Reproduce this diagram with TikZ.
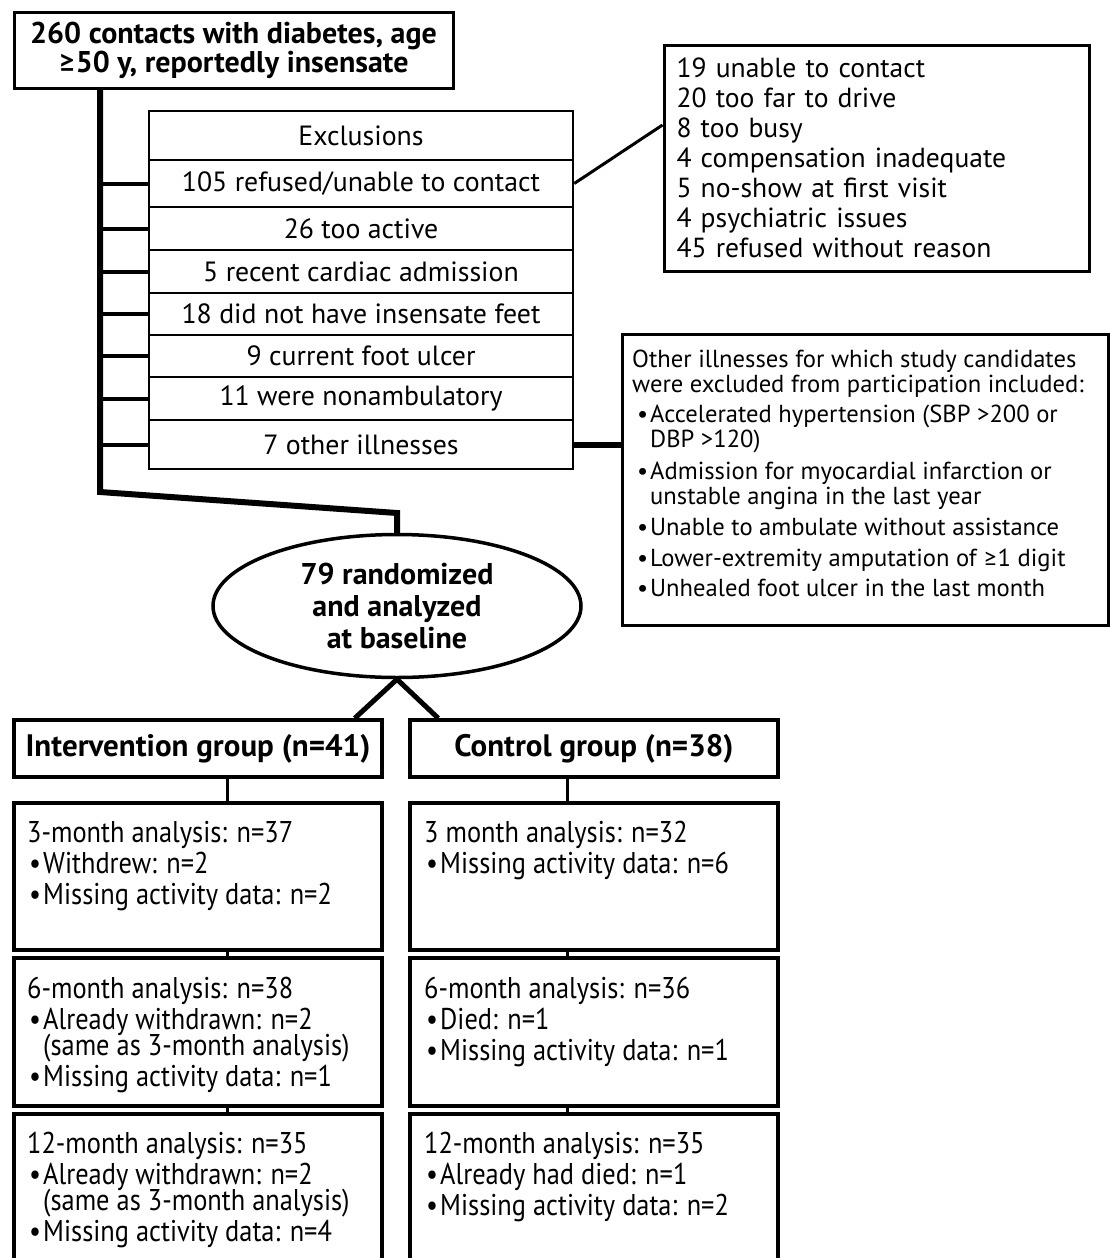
\documentclass[tikz,border=0pt]{standalone}
\usepackage{fontspec}
\setmainfont{PT Sans}
\newfontfamily\condfont[FakeStretch=0.88]{PT Sans}
\newfontfamily\gefont{Lato}
\usetikzlibrary{shapes.geometric,calc}
\newcommand{\mybul}{\makebox[18pt][l]{\hspace{5pt}•}}
\newcommand{\myind}{\hspace{18pt}}
\newcommand{\lbul}{\makebox[16pt][l]{\hspace{2pt}•}}
\newcommand{\lind}{\hspace{16pt}}
\newcommand{\myge}{{\gefont ≥}}
\begin{document}
\begin{tikzpicture}[x=1pt,y=-1pt,
  topbox/.style={draw, line width=3pt, minimum width=439pt, minimum height=76pt, inner sep=0pt, align=center, font=\fontsize{30}{29}\selectfont\bfseries},
  exrow/.style={draw, line width=2.5pt, minimum width=424pt, inner sep=0pt, font=\fontsize{27.8}{28}\selectfont},
  tickline/.style={line width=4pt},
  trunkline/.style={line width=6pt},
  thinlink/.style={line width=3pt},
  sidebox/.style={draw, line width=3pt, inner sep=0pt},
  grpbox/.style={draw, line width=3.5pt, minimum width=368pt, minimum height=57pt, inner sep=0pt, font=\fontsize{31}{28}\selectfont\bfseries},
  anbox/.style={draw, line width=4.5pt, minimum width=368pt, inner sep=0pt},
  antext/.style={anchor=north west, inner sep=0pt, align=left, font=\condfont\fontsize{30}{31}\selectfont},
  ellnode/.style={draw, ellipse, line width=3.5pt, minimum width=368pt, minimum height=143pt, inner sep=0pt, align=center, font=\fontsize{30}{32}\selectfont\bfseries}
]
\useasboundingbox (0,0) rectangle (1110,1258);
\fill[white] (0,0) rectangle (1110,1258);

% top box
\node[topbox] (top) at (233.5,50) {260 contacts with diabetes, age\\\myge 50 y, reportedly insensate};

% exclusions table
\node[exrow, minimum height=49pt] (ex0) at (361,135.5) {Exclusions};
\node[exrow, minimum height=47pt] (ex1) at (361,183.5) {105 refused/unable to contact};
\node[exrow, minimum height=43pt] (ex2) at (361,228.5) {26 too active};
\node[exrow, minimum height=43pt] (ex3) at (361,271.5) {5 recent cardiac admission};
\node[exrow, minimum height=42pt] (ex4) at (361,314) {18 did not have insensate feet};
\node[exrow, minimum height=42pt] (ex5) at (361,356) {9 current foot ulcer};
\node[exrow, minimum height=43pt] (ex6) at (361,398.5) {11 were nonambulatory};
\node[exrow, minimum height=49pt] (ex7) at (361,444.5) {7 other illnesses};

% trunk
\coordinate (trunk) at (100,0);
\coordinate (bendA) at (100,492);
\coordinate (bendB) at (397,513);
\node[ellnode] (ell) at (397,606) {79 randomized\\and analyzed\\at baseline};
\draw[trunkline] (top.south -| trunk) -- (bendA) -- (bendB) -- (ell.north);
\foreach \r in {ex1,ex2,ex3,ex4,ex5,ex6,ex7}{
  \draw[tickline] (\r.west) -- (\r.west -| trunk);
}

% side box 1
\node[sidebox, minimum width=425pt, minimum height=226pt, text width=400pt, align=left, font=\fontsize{27.6}{30}\selectfont] (rb1) at (876.5,158) {19 unable to contact\\20 too far to drive\\8 too busy\\4 compensation inadequate\\5 no-show at first visit\\4 psychiatric issues\\45 refused without reason};
\draw[thinlink] (ex1.east) -- ([yshift=33pt]rb1.west);

% side box 2
\node[sidebox, minimum width=486pt, minimum height=291pt] (rb2) at (865,479.5) {};
\node[anchor=north west, inner sep=0pt, align=left, font=\fontsize{24.6}{25}\selectfont] (rb2t) at (632,350) {Other illnesses for which study candidates\\
were excluded from participation included:\\[5pt]
\mybul Accelerated hypertension (SBP >200 or\\
\myind DBP >120)\\[7pt]
\mybul Admission for myocardial infarction or\\
\myind unstable angina in the last year\\[6pt]
\mybul Unable to ambulate without assistance\\[6pt]
\mybul Lower-extremity amputation of \myge 1 digit\\[5pt]
\mybul Unhealed foot ulcer in the last month};
\draw[trunkline] (ex7.east) -- (ex7.east -| rb2.west);

% groups
\node[grpbox] (int) at (198,748.5) {Intervention group (n=41)};
\node[grpbox] (ctl) at (594,748.5) {Control group (n=38)};
\draw[line width=5pt] ([xshift=-29pt]int.north east) -- (ell.south) -- ([xshift=30pt]ctl.north west);

% analysis boxes
\node[anbox, minimum height=147pt] (a1) at (198,876.5) {};
\node[anbox, minimum height=148pt] (a2) at (198,1032) {};
\node[anbox, minimum height=160pt] (a3) at (198,1194) {};
\node[anbox, minimum height=147pt] (b1) at (594,876.5) {};
\node[anbox, minimum height=148pt] (b2) at (594,1032) {};
\node[anbox, minimum height=160pt] (b3) at (594,1194) {};

\coordinate (lc) at (227,0);
\coordinate (rc) at (567,0);
\draw[thinlink] (int.south -| lc) -- (a1.north -| lc);
\draw[thinlink] (ctl.south -| rc) -- (b1.north -| rc);
\draw[thinlink] (a1.south -| lc) -- (a2.north -| lc);
\draw[thinlink] (a2.south -| lc) -- (a3.north -| lc);
\draw[thinlink] (b1.south -| rc) -- (b2.north -| rc);
\draw[thinlink] (b2.south -| rc) -- (b3.north -| rc);

\node[antext] (a1t) at (27,821) {3-month analysis: n=37\\\lbul Withdrew: n=2\\\lbul Missing activity data: n=2};
\node[antext] (a2t) at (27,977) {6-month analysis: n=38\\\lbul Already withdrawn: n=2\\[-5pt]\lind (same as 3-month analysis)\\\lbul Missing activity data: n=1};
\node[antext] (a3t) at (27,1132) {12-month analysis: n=35\\\lbul Already withdrawn: n=2\\[-5pt]\lind (same as 3-month analysis)\\\lbul Missing activity data: n=4};
\node[antext] (b1t) at (424,821) {3 month analysis: n=32\\\lbul Missing activity data: n=6};
\node[antext] (b2t) at (424,977) {6-month analysis: n=36\\\lbul Died: n=1\\\lbul Missing activity data: n=1};
\node[antext] (b3t) at (424,1132) {12-month analysis: n=35\\\lbul Already had died: n=1\\\lbul Missing activity data: n=2};
\end{tikzpicture}
\end{document}
